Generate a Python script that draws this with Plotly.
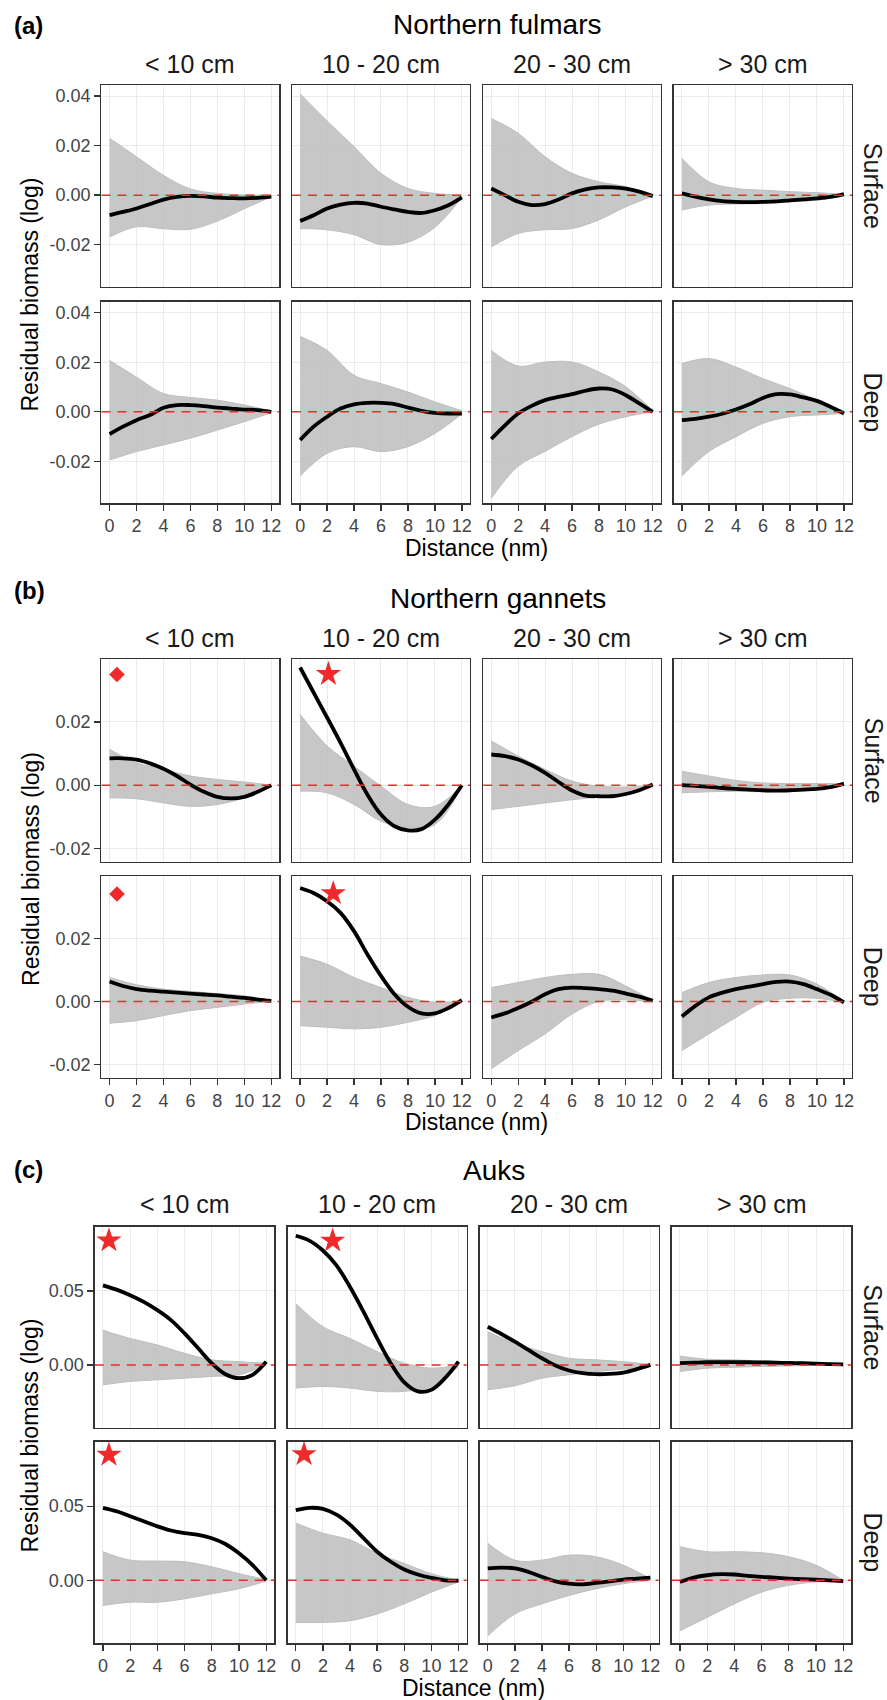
import plotly.graph_objects as go

# ---------------- data ----------------
X_FINE = list(range(13))                 # distance (nm) for observed curves
X_ENV = [0, 2, 4, 6, 8, 10, 12]          # distance (nm) for null-envelope curves

PANEL_LABELS = ["(a)", "(b)", "(c)"]
SPECIES = ["Northern fulmars", "Northern gannets", "Auks"]
SIZE_CLASSES = ["< 10 cm", "10 - 20 cm", "20 - 30 cm", "> 30 cm"]
DEPTHS = ["Surface", "Deep"]
X_TICKS = [0, 2, 4, 6, 8, 10, 12]
Y_TICKS = [[-0.02, 0.0, 0.02, 0.04], [-0.02, 0.0, 0.02], [0.0, 0.05]]
Y_TICK_TEXT = [["-0.02", "0.00", "0.02", "0.04"], ["-0.02", "0.00", "0.02"], ["0.00", "0.05"]]
Y_RANGES = [[-0.037, 0.0445], [-0.0242, 0.0398], [-0.0425, 0.0935]]
REF_LEVEL = 0.0

# Northern fulmars
FULMAR_SURFACE_OBS = [
    [-0.0081, -0.0068, -0.0054, -0.0036, -0.0018, -0.0007, -0.0003, -0.0005, -0.0010, -0.0012, -0.0013, -0.0011, -0.0006],
    [-0.0104, -0.0081, -0.0054, -0.0038, -0.0031, -0.0034, -0.0047, -0.0058, -0.0068, -0.0072, -0.0061, -0.0041, -0.0009],
    [0.0027, 0.0, -0.0027, -0.0040, -0.0036, -0.0018, 0.0007, 0.0023, 0.0031, 0.0031, 0.0026, 0.0014, -0.0004],
    [0.0007, -0.0006, -0.0017, -0.0024, -0.0027, -0.0028, -0.0027, -0.0025, -0.0021, -0.0017, -0.0013, -0.0007, 0.0004],
]
FULMAR_SURFACE_UPPER = [
    [0.023, 0.0155, 0.008, 0.0025, 0.0007, 0.0001, 0.0],
    [0.041, 0.030, 0.0196, 0.0088, 0.0027, 0.0007, 0.0],
    [0.031, 0.025, 0.0155, 0.0088, 0.0054, 0.0034, 0.0],
    [0.0149, 0.0054, 0.0027, 0.002, 0.0014, 0.001, 0.0003],
]
FULMAR_SURFACE_LOWER = [
    [-0.0169, -0.0128, -0.0136, -0.0138, -0.0105, -0.0055, -0.0007],
    [-0.0135, -0.014, -0.016, -0.020, -0.019, -0.013, -0.001],
    [-0.021, -0.0155, -0.014, -0.0135, -0.010, -0.0047, -0.0004],
    [-0.006, -0.004, -0.0036, -0.0034, -0.0027, -0.002, -0.0004],
]
FULMAR_DEEP_OBS = [
    [-0.0090, -0.0060, -0.0034, -0.0013, 0.0016, 0.0027, 0.0027, 0.0023, 0.0017, 0.0013, 0.0009, 0.0007, 0.0],
    [-0.0114, -0.0060, -0.0020, 0.0013, 0.0030, 0.0036, 0.0036, 0.0031, 0.0017, 0.0004, -0.0004, -0.0007, -0.0007],
    [-0.0110, -0.0056, -0.0007, 0.0024, 0.0047, 0.0060, 0.0071, 0.0085, 0.0094, 0.0090, 0.0067, 0.0034, 0.0],
    [-0.0034, -0.0029, -0.0020, -0.0008, 0.0009, 0.0030, 0.0056, 0.0071, 0.0070, 0.0058, 0.0044, 0.0020, -0.0007],
]
FULMAR_DEEP_UPPER = [
    [0.0208, 0.014, 0.0074, 0.0058, 0.0047, 0.0027, 0.0004],
    [0.0305, 0.0248, 0.0148, 0.0114, 0.008, 0.004, 0.0004],
    [0.0248, 0.0185, 0.0201, 0.0201, 0.0161, 0.0101, 0.0004],
    [0.0195, 0.0215, 0.0181, 0.0134, 0.0094, 0.0047, 0.0],
]
FULMAR_DEEP_LOWER = [
    [-0.0195, -0.0161, -0.0134, -0.0107, -0.0074, -0.004, -0.0004],
    [-0.026, -0.0168, -0.0141, -0.0161, -0.0141, -0.0087, -0.0009],
    [-0.035, -0.022, -0.016, -0.010, -0.005, -0.002, 0.0],
    [-0.026, -0.0161, -0.0101, -0.0047, -0.002, -0.0013, -0.0007],
]

# Northern gannets
GANNET_SURFACE_OBS = [
    [0.0085, 0.0085, 0.0081, 0.0069, 0.0052, 0.0029, 0.0002, -0.0021, -0.0037, -0.0042, -0.0037, -0.0021, 0.0],
    [0.0372, 0.0293, 0.0214, 0.0134, 0.0050, -0.0030, -0.0093, -0.0130, -0.0143, -0.0139, -0.0109, -0.0061, 0.0],
    [0.0097, 0.0092, 0.0081, 0.0063, 0.0039, 0.0010, -0.0017, -0.0033, -0.0035, -0.0035, -0.0028, -0.0016, 0.0002],
    [0.0, -0.0002, -0.0005, -0.0009, -0.0012, -0.0014, -0.0016, -0.0017, -0.0016, -0.0014, -0.0012, -0.0006, 0.0005],
]
GANNET_SURFACE_UPPER = [
    [0.0113, 0.0071, 0.005, 0.0029, 0.0018, 0.001, 0.0],
    [0.0224, 0.0124, 0.006, -0.0003, -0.0061, -0.0067, 0.0],
    [0.014, 0.0092, 0.005, 0.0013, -0.0003, -0.0006, 0.0],
    [0.0044, 0.0029, 0.0015, 0.0007, 0.0005, 0.0005, 0.0005],
]
GANNET_SURFACE_LOWER = [
    [-0.004, -0.0043, -0.0056, -0.0067, -0.0061, -0.004, -0.0003],
    [-0.0019, -0.0024, -0.0061, -0.0114, -0.0135, -0.0125, -0.0003],
    [-0.0077, -0.0067, -0.0056, -0.0046, -0.0037, -0.0024, -0.0003],
    [-0.0024, -0.0021, -0.0019, -0.0021, -0.0019, -0.0014, -0.0001],
]
GANNET_DEEP_OBS = [
    [0.0063, 0.0049, 0.0039, 0.0034, 0.0031, 0.0028, 0.0025, 0.0022, 0.0019, 0.0015, 0.0011, 0.0006, 0.0002],
    [0.0360, 0.0344, 0.0318, 0.0281, 0.0223, 0.0149, 0.0081, 0.0023, -0.0017, -0.0038, -0.0038, -0.0021, 0.0004],
    [-0.0051, -0.0038, -0.0021, -0.0001, 0.0023, 0.0039, 0.0044, 0.0042, 0.0039, 0.0034, 0.0025, 0.0015, 0.0002],
    [-0.0048, -0.0014, 0.0013, 0.0028, 0.0039, 0.0047, 0.0055, 0.0062, 0.0063, 0.0055, 0.0039, 0.0021, -0.0003],
]
GANNET_DEEP_UPPER = [
    [0.0076, 0.0053, 0.0039, 0.0032, 0.0025, 0.0018, 0.0002],
    [0.0144, 0.0118, 0.0076, 0.0044, 0.0013, -0.0003, 0.0],
    [0.0044, 0.006, 0.0076, 0.0086, 0.0086, 0.0049, 0.0002],
    [0.0028, 0.006, 0.0076, 0.0084, 0.0084, 0.0055, 0.0],
]
GANNET_DEEP_LOWER = [
    [-0.0069, -0.0061, -0.0045, -0.0029, -0.0019, -0.0008, 0.0],
    [-0.0077, -0.0082, -0.0087, -0.0082, -0.0066, -0.0045, -0.0003],
    [-0.0214, -0.0156, -0.0103, -0.004, 0.0, 0.0005, 0.0],
    [-0.0156, -0.0103, -0.0051, -0.0003, 0.0010, 0.0010, -0.0003],
]

# Auks
AUK_SURFACE_OBS = [
    [0.0538, 0.0509, 0.0471, 0.0426, 0.0370, 0.0303, 0.0213, 0.0112, 0.0011, -0.0063, -0.0090, -0.0067, 0.0022],
    [0.0874, 0.0841, 0.0774, 0.0673, 0.0527, 0.0359, 0.0179, 0.0011, -0.0119, -0.0179, -0.0168, -0.0090, 0.0022],
    [0.0258, 0.0209, 0.0157, 0.0101, 0.0045, -0.0004, -0.0038, -0.0056, -0.0063, -0.0061, -0.0052, -0.0029, 0.0],
    [0.0012, 0.0015, 0.0018, 0.0019, 0.0019, 0.0018, 0.0017, 0.0015, 0.0013, 0.0011, 0.0008, 0.0005, 0.0003],
]
AUK_SURFACE_UPPER = [
    [0.0235, 0.0179, 0.0135, 0.0078, 0.0034, 0.0022, 0.0011],
    [0.0415, 0.0258, 0.0179, 0.009, 0.0011, -0.0022, 0.0],
    [0.0224, 0.0146, 0.009, 0.0045, 0.0034, 0.0022, 0.0004],
    [0.006, 0.0038, 0.0034, 0.0027, 0.0022, 0.0016, 0.0007],
]
AUK_SURFACE_LOWER = [
    [-0.0135, -0.0112, -0.0101, -0.009, -0.0078, -0.0067, 0.0],
    [-0.0157, -0.0146, -0.0157, -0.0179, -0.0179, -0.0146, -0.0011],
    [-0.0168, -0.0141, -0.009, -0.0067, -0.0045, -0.0029, -0.0007],
    [-0.0045, -0.0022, -0.0016, -0.0011, -0.0007, -0.0004, 0.0],
]
AUK_DEEP_OBS = [
    [0.0489, 0.0466, 0.0432, 0.0398, 0.0364, 0.0336, 0.0318, 0.0307, 0.0284, 0.0245, 0.0182, 0.0102, 0.0],
    [0.0473, 0.0489, 0.0482, 0.0443, 0.0375, 0.0284, 0.0193, 0.0125, 0.0073, 0.0039, 0.0016, 0.0, -0.0002],
    [0.0080, 0.0086, 0.0080, 0.0057, 0.0023, -0.0007, -0.0023, -0.0027, -0.0018, -0.0007, 0.0005, 0.0011, 0.0018],
    [-0.0011, 0.0018, 0.0034, 0.0041, 0.0039, 0.0030, 0.0023, 0.0018, 0.0011, 0.0007, 0.0005, 0.0, -0.0005],
]
AUK_DEEP_UPPER = [
    [0.0193, 0.0136, 0.013, 0.0125, 0.0091, 0.0045, 0.0005],
    [0.0386, 0.0318, 0.0273, 0.0182, 0.0114, 0.0045, 0.0],
    [0.025, 0.0136, 0.0136, 0.017, 0.0159, 0.0102, 0.0011],
    [0.0227, 0.0193, 0.0193, 0.0186, 0.0159, 0.0102, 0.0],
]
AUK_DEEP_LOWER = [
    [-0.017, -0.0148, -0.0148, -0.0125, -0.0091, -0.0057, -0.0005],
    [-0.0284, -0.0284, -0.0273, -0.0227, -0.0159, -0.008, -0.0011],
    [-0.0375, -0.0227, -0.0159, -0.0102, -0.0057, -0.0023, 0.0],
    [-0.0341, -0.025, -0.0159, -0.008, -0.0034, -0.0011, -0.0005],
]

# significance symbols: (panel index, depth index, size-class index, symbol, distance, value)
SIG_MARKS = [
    (1, 0, 0, "diamond", 0.55, 0.0350),
    (1, 0, 1, "star", 2.10, 0.0351),
    (1, 1, 0, "diamond", 0.55, 0.0341),
    (1, 1, 1, "star", 2.46, 0.0343),
    (2, 0, 0, "star", 0.44, 0.0841),
    (2, 0, 1, "star", 2.72, 0.0840),
    (2, 1, 0, "star", 0.44, 0.0846),
    (2, 1, 1, "star", 0.61, 0.0850),
]

OBS = [[FULMAR_SURFACE_OBS, FULMAR_DEEP_OBS], [GANNET_SURFACE_OBS, GANNET_DEEP_OBS], [AUK_SURFACE_OBS, AUK_DEEP_OBS]]
UPPER = [[FULMAR_SURFACE_UPPER, FULMAR_DEEP_UPPER], [GANNET_SURFACE_UPPER, GANNET_DEEP_UPPER], [AUK_SURFACE_UPPER, AUK_DEEP_UPPER]]
LOWER = [[FULMAR_SURFACE_LOWER, FULMAR_DEEP_LOWER], [GANNET_SURFACE_LOWER, GANNET_DEEP_LOWER], [AUK_SURFACE_LOWER, AUK_DEEP_LOWER]]

# ---------------- layout geometry (pixels) ----------------
W, H = 887, 1700
ROW_PX = [
    [(85, 286.7), (301.7, 503.3)],
    [(659.3, 861.7), (876, 1077.7)],
    [(1226.7, 1427.7), (1441.7, 1643.3)],
]
COLS_AB = [(101.7, 280), (292.7, 471), (484.3, 662.3), (675.3, 854)]
COLS_C = [(95, 275), (288.3, 467.7), (480.7, 660), (673.3, 853.3)]
COL_PX = [COLS_AB, COLS_AB, COLS_C]
LABEL_Y = [25.5, 590.7, 1169]
TITLE_Y = [25, 599, 1170]
TITLE_X = [499, 499, 495]
HEADER_Y = [64, 638.3, 1204]
XTITLE_Y = [548, 1121.7, 1688]
STRIP_X = 875
YTITLE_X = 30.5

FONT = "Liberation Sans, Arial, Helvetica, sans-serif"
GRAY_LINE = "#BEBEBE"
GRAY_FILL = "rgba(190,190,190,0.86)"
RED = "#EE2A2A"
BORDER = "#333333"


def px(x):
    return x / W


def py(y):
    return 1 - y / H


fig = go.Figure()
layout = dict(
    width=W, height=H, autosize=False,
    margin=dict(l=0, r=0, t=0, b=0),
    paper_bgcolor="white", plot_bgcolor="white",
    showlegend=False,
    font=dict(family=FONT, color="#1A1A1A"),
)
annotations = []
shapes = []

n = 0
for p in range(3):
    for r in range(2):
        for c in range(4):
            n += 1
            xa = "x" if n == 1 else f"x{n}"
            ya = "y" if n == 1 else f"y{n}"
            xkey = "xaxis" if n == 1 else f"xaxis{n}"
            ykey = "yaxis" if n == 1 else f"yaxis{n}"
            x0, x1 = COL_PX[p][c]
            y0, y1 = ROW_PX[p][r]
            bottom = r == 1
            left = c == 0
            layout[xkey] = dict(
                domain=[px(x0), px(x1)], anchor=ya, range=[-0.6, 12.6],
                tickvals=X_TICKS, ticktext=[str(v) for v in X_TICKS],
                showticklabels=bottom, ticks="outside" if bottom else "",
                ticklen=6, tickwidth=1.3, tickcolor=BORDER,
                tickfont=dict(size=18, color="#444444", family=FONT),
                showgrid=True, gridcolor="#EBEBEB", gridwidth=1,
                zeroline=False, showline=True, mirror=True,
                linecolor=BORDER, linewidth=1.4, fixedrange=True,
            )
            layout[ykey] = dict(
                domain=[py(y1), py(y0)], anchor=xa, range=Y_RANGES[p],
                tickvals=Y_TICKS[p], ticktext=Y_TICK_TEXT[p],
                showticklabels=left, ticks="outside" if left else "",
                ticklen=6, tickwidth=1.3, tickcolor=BORDER,
                tickfont=dict(size=18, color="#444444", family=FONT),
                showgrid=True, gridcolor="#EBEBEB", gridwidth=1,
                zeroline=False, showline=True, mirror=True,
                linecolor=BORDER, linewidth=1.4, fixedrange=True,
            )
            # null envelope (grey bundle)
            fig.add_trace(go.Scatter(
                x=X_ENV, y=LOWER[p][r][c], xaxis=xa, yaxis=ya, mode="lines",
                line=dict(color=GRAY_LINE, width=1, shape="spline", smoothing=1.0),
                hoverinfo="skip"))
            fig.add_trace(go.Scatter(
                x=X_ENV, y=UPPER[p][r][c], xaxis=xa, yaxis=ya, mode="lines",
                line=dict(color=GRAY_LINE, width=1, shape="spline", smoothing=1.0),
                fill="tonexty", fillcolor=GRAY_FILL, hoverinfo="skip"))
            # observed curve
            fig.add_trace(go.Scatter(
                x=X_FINE, y=OBS[p][r][c], xaxis=xa, yaxis=ya, mode="lines",
                line=dict(color="black", width=3.8, shape="spline", smoothing=1.0),
                hoverinfo="skip"))
            # zero reference line
            shapes.append(dict(
                type="line", xref=f"{xa} domain", yref=ya, x0=0, x1=1,
                y0=REF_LEVEL, y1=REF_LEVEL, layer="above",
                line=dict(color=RED, width=1.5, dash="9px,7px")))
            # significance markers
            for (mp, mr, mc, sym, mx, my) in SIG_MARKS:
                if (mp, mr, mc) == (p, r, c):
                    fig.add_trace(go.Scatter(
                        x=[mx], y=[my], xaxis=xa, yaxis=ya, mode="markers",
                        marker=dict(symbol=sym, color=RED,
                                    size=19 if sym == "star" else 12,
                                    line=dict(width=0)),
                        hoverinfo="skip"))
            # column headers
            if r == 0:
                annotations.append(dict(
                    text=SIZE_CLASSES[c], x=px((x0 + x1) / 2), y=py(HEADER_Y[p]),
                    xref="paper", yref="paper", showarrow=False,
                    xanchor="center", yanchor="middle",
                    font=dict(size=25, color="#1A1A1A", family=FONT)))
            # depth strips
            if c == 3:
                annotations.append(dict(
                    text=DEPTHS[r], x=px(STRIP_X), y=py((y0 + y1) / 2),
                    xref="paper", yref="paper", showarrow=False, textangle=90,
                    xanchor="center", yanchor="middle",
                    font=dict(size=25, color="#1A1A1A", family=FONT)))

    top = ROW_PX[p][0][0]
    bot = ROW_PX[p][1][1]
    annotations.append(dict(
        text=f"<b>{PANEL_LABELS[p]}</b>", x=px(12), y=py(LABEL_Y[p]),
        xref="paper", yref="paper", showarrow=False, xanchor="left", yanchor="middle",
        font=dict(size=24, color="black", family=FONT)))
    annotations.append(dict(
        text=SPECIES[p], x=px(TITLE_X[p]), y=py(TITLE_Y[p]),
        xref="paper", yref="paper", showarrow=False, xanchor="center", yanchor="middle",
        font=dict(size=28, color="black", family=FONT)))
    annotations.append(dict(
        text="Residual biomass (log)", x=px(YTITLE_X), y=py((top + bot) / 2),
        xref="paper", yref="paper", showarrow=False, textangle=-90,
        xanchor="center", yanchor="middle",
        font=dict(size=23, color="black", family=FONT)))
    cl = COL_PX[p][0][0]
    cr = COL_PX[p][3][1]
    annotations.append(dict(
        text="Distance (nm)", x=px((cl + cr) / 2), y=py(XTITLE_Y[p]),
        xref="paper", yref="paper", showarrow=False,
        xanchor="center", yanchor="middle",
        font=dict(size=23, color="black", family=FONT)))

layout["annotations"] = annotations
layout["shapes"] = shapes
fig.update_layout(**layout)
fig.write_html(
    "out.html",
    config={"displayModeBar": False, "staticPlot": True},
    post_script="document.body.style.margin='0';document.body.style.overflow='hidden';",
)
